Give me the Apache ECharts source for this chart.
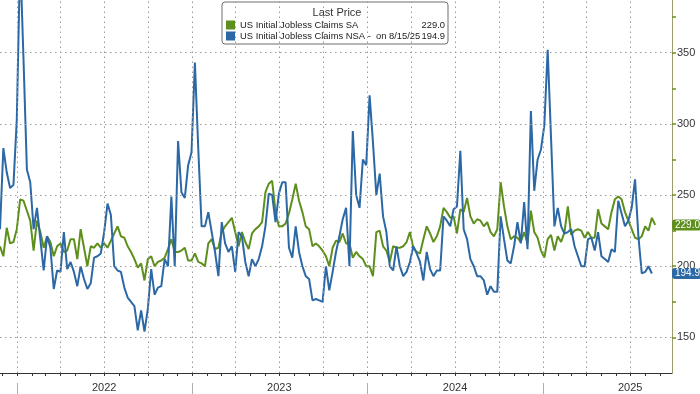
<!DOCTYPE html>
<html>
<head>
<meta charset="utf-8">
<script src="https://cdn.jsdelivr.net/npm/echarts@6/dist/echarts.min.js"></script>
<style>
html,body{margin:0;padding:0;background:#fff;}
#c{width:700px;height:394px;}
</style>
</head>
<body>
<div id="c"></div>
<script>
// ---- data ----
var seriesNames = ['US Initial Jobless Claims SA', 'US Initial Jobless Claims NSA'];
var nsaSuffix = ' -  on 8/15/25';
var legendTitle = 'Last Price';
var startDate = '2021-11-26'; // first weekly observation (Friday)
var yearLabels = ['2022', '2023', '2024', '2025'];
var yTickLabels = [150, 200, 250, 300, 350];
var yMinorTicks = [150, 175, 200, 225, 250, 275, 300, 325, 350, 375];

// weekly NSA claims (thousands), from 2021-11-26 to 2025-08-15
var nsaValues = [
 226,283,266,255,257,303,
 418,345,268,259,226,241,219,197,221,213,184,197,196,224,198,203,196,186,200,191,184,188,206,207,209,224,244,236,200,197,196,185,178,175,172,155,169,154,170,198,180,185,186,205,200,249,200,288,252,248,271,280,
 343,283,228,228,238,224,210,193,231,216,210,214,196,224,221,203,193,205,200,205,214,228,251,250,231,251,259,259,213,206,228,210,200,193,191,176,177,176,175,200,183,196,210,221,233,241,200,295,250,241,275,271,
 320,287,250,265,235,224,200,197,214,200,193,196,203,214,209,203,190,210,198,193,197,197,235,232,228,240,242,281,226,219,205,200,193,193,190,180,186,182,182,235,219,204,202,214,231,216,245,212,309,253,275,282,
 299,352,290,228,241,228,223,224,226,214,207,200,200,219,220,211,224,207,205,203,212,210,246,237,228,232,241,261,221,195,196,200,194.9
];
// weekly SA claims (thousands), from 2021-11-26 to 2025-08-22
var saValues = [
 214,207,227,216,217,226,
 247,246,239,232,211,232,224,213,221,217,207,214,216,210,211,219,219,205,226,213,200,214,213,216,213,216,213,218,223,228,221,220,214,210,205,199,202,190,205,207,200,203,204,206,212,219,210,210,211,213,204,204,
 209,203,202,200,216,219,212,213,224,228,231,234,224,214,224,217,212,223,226,228,231,252,258,260,238,228,228,230,237,247,258,246,238,228,226,214,216,214,211,207,200,213,218,217,223,216,216,206,210,207,205,200,
 200,193,224,225,214,211,203,214,213,213,214,217,224,213,210,209,219,228,223,217,221,228,241,238,234,235,223,240,238,248,235,230,233,232,228,231,224,221,226,259,242,228,219,221,220,217,224,216,239,224,220,211,
 206,219,222,211,221,217,224,242,222,225,226,225,220,224,220,220,240,230,228,226,238,247,249,247,238,232,226,220,219,221,228,225,234,229
];

// ---- build ----
var DAY = 86400000;
var t0 = Date.parse(startDate + 'T00:00:00Z');
function weekly(vals){ return vals.map(function(v,i){ return [t0 + i*7*DAY, v]; }); }
var saData = weekly(saValues), nsaData = weekly(nsaValues);
var saLast = saValues[saValues.length-1], nsaLast = nsaValues[nsaValues.length-1];

var xMin = Date.UTC(2021,10,26), xMax = Date.UTC(2025,8,26);
var monthTicks = [], quarterLines = [], yearStarts = [], yearMids = [];
for (var y = 2021; y <= 2025; y++) {
  for (var m = 0; m < 12; m++) {
    var t = Date.UTC(y, m, 1);
    if (t < xMin || t > xMax) continue;
    monthTicks.push(t);
    if (m % 3 === 0) quarterLines.push(t);
  }
}
yearLabels.forEach(function(s){ var yy = +s; yearStarts.push(Date.UTC(yy,0,1)); yearMids.push(Date.UTC(yy,6,1)); });

var GREEN = '#5e8f1c', BLUE = '#2c68a5', FONT = 'Liberation Sans, Arial, sans-serif';
var gridStyle = { color: '#9a9a9a', width: 1, type: [1.5, 3.5] };
var hMarks = yTickLabels.map(function(v){ return { yAxis: v }; });
var vMarks = quarterLines.map(function(t){ return { xAxis: t }; });

function tag(value, color) {
  return {
    silent: true, symbol: 'none', animation: false,
    lineStyle: { color: 'rgba(0,0,0,0)', width: 0 },
    label: {
      show: true, position: 'end', distance: 0,
      formatter: value.toFixed(1), color: '#fff', backgroundColor: color,
      padding: [1, 1, 0, 3], borderRadius: 3, fontSize: 10, lineHeight: 10, fontFamily: FONT
    },
    data: [{ yAxis: value }]
  };
}
function gridSeries(name, marks) {
  return {
    name: name, type: 'line', data: [], silent: true, z: 1,
    markLine: { silent: true, symbol: 'none', animation: false, label: { show: false }, lineStyle: gridStyle, data: marks }
  };
}

var chart = echarts.init(document.getElementById('c'), null, { renderer: 'canvas' });
chart.setOption({
  animation: false,
  backgroundColor: '#fff',
  textStyle: { fontFamily: FONT },
  grid: { left: 0, right: 28, top: 0, bottom: 21, containLabel: false },
  title: {
    text: legendTitle, left: 337, top: 7, padding: 0, textAlign: 'center',
    textStyle: { fontSize: 11, fontWeight: 'normal', color: '#333', fontFamily: FONT, lineHeight: 12 }, z: 10
  },
  legend: {
    data: seriesNames, orient: 'vertical', left: 222, top: 2,
    padding: [18, 3, 3, 4], itemGap: 1, itemWidth: 9, itemHeight: 9,
    backgroundColor: '#fff', borderColor: '#6e6e6e', borderWidth: 1, borderRadius: 3,
    icon: 'rect', selectedMode: false,
    textStyle: {
      fontSize: 9.4, color: '#222', fontFamily: FONT, lineHeight: 10,
      rich: { n: { width: 183, fontSize: 9.4, fontFamily: FONT, color: '#222' },
              v: { width: 22, align: 'right', fontSize: 9.4, fontFamily: FONT, color: '#222' } }
    },
    formatter: function(name){
      if (name === seriesNames[0]) return '{n|' + name + '}{v|' + saLast.toFixed(1) + '}';
      return '{n|' + name + nsaSuffix + '}{v|' + nsaLast.toFixed(1) + '}';
    }
  },
  xAxis: [{
    type: 'value', min: xMin, max: xMax, scale: true,
    axisLine: { show: true, onZero: false, lineStyle: { color: '#333', width: 1 } },
    axisTick: { show: true, length: 3, customValues: monthTicks, lineStyle: { color: '#333' } },
    axisLabel: {
      show: true, customValues: yearMids, margin: 9, fontSize: 11, color: '#333', fontFamily: FONT,
      formatter: function(v){ return String(new Date(v).getUTCFullYear()); }
    },
    splitLine: { show: false }, minorSplitLine: { show: false }
  }, {
    type: 'value', min: xMin, max: xMax, scale: true, position: 'bottom', offset: 10,
    axisLine: { show: false, onZero: false },
    axisTick: { show: true, length: 11, customValues: yearStarts, lineStyle: { color: '#b0b0b0' } },
    axisLabel: { show: false },
    splitLine: { show: false }, minorSplitLine: { show: false }
  }],
  yAxis: {
    type: 'value', position: 'right', min: 125, max: 387,
    axisLine: { show: true, lineStyle: { color: '#9c9c6c', width: 1 } },
    axisTick: { show: true, length: 4, customValues: yMinorTicks, lineStyle: { color: '#6b8e23', width: 1.5 } },
    axisLabel: { show: true, customValues: yTickLabels, margin: 5, fontSize: 11, color: '#333', fontFamily: FONT },
    splitLine: { show: false }, minorSplitLine: { show: false }
  },
  series: [
    gridSeries('hgrid', hMarks),
    gridSeries('vgrid', vMarks),
  {
    name: seriesNames[0], type: 'line', data: saData, showSymbol: false, z: 3,
    lineStyle: { color: GREEN, width: 2 }, itemStyle: { color: GREEN },
    markLine: tag(saLast, GREEN)
  }, {
    name: seriesNames[1], type: 'line', data: nsaData, showSymbol: false, z: 4,
    lineStyle: { color: BLUE, width: 2 }, itemStyle: { color: BLUE },
    markLine: tag(nsaLast, BLUE)
  }]
});
</script>
</body>
</html>
